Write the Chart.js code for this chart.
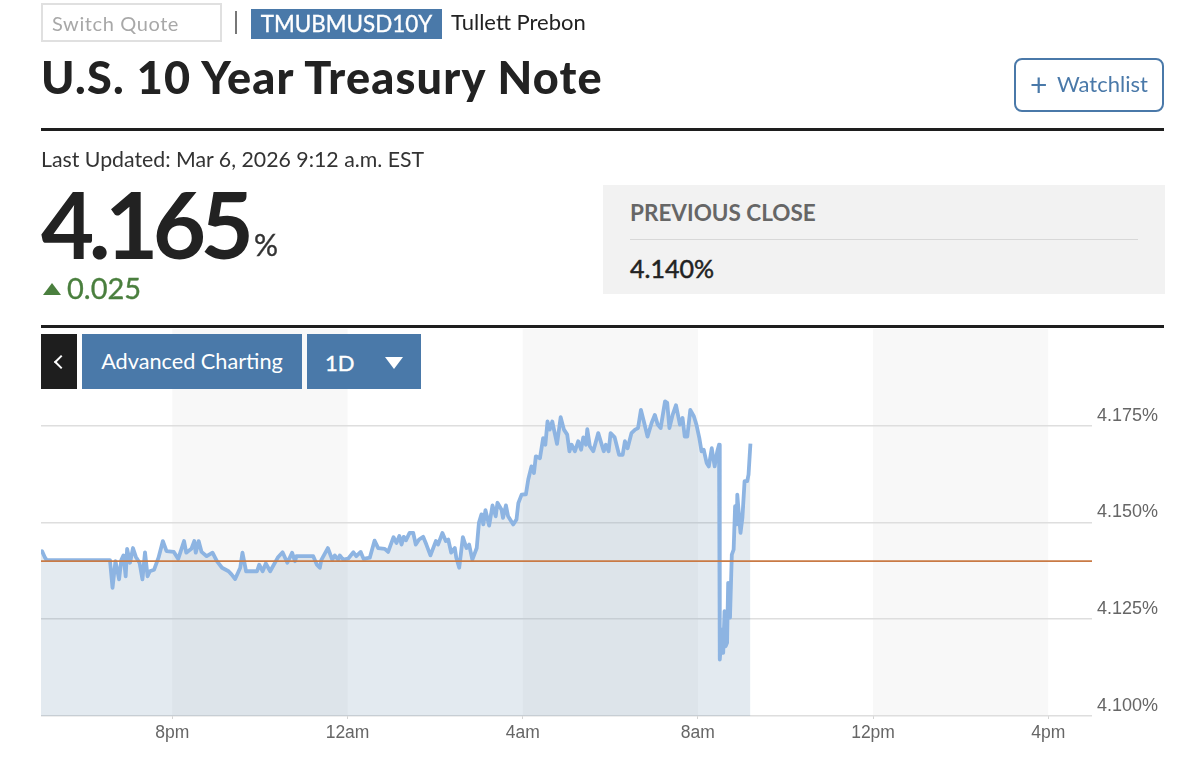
<!DOCTYPE html>
<html>
<head>
<meta charset="utf-8">
<title>U.S. 10 Year Treasury Note</title>
<script src="https://cdn.jsdelivr.net/npm/chart.js@4"></script>
<style>
html, body { margin: 0; padding: 0; background: #fff; }
body { width: 1200px; height: 773px; position: relative; overflow: hidden; font-family: Lato, sans-serif; color: #222; }
#chart-area { position: absolute; left: 0; top: 0; width: 1200px; height: 773px; }
.abs { position: absolute; white-space: nowrap; line-height: 1; }
.blue { background: #4a79a9; color: #fff; }
.rule { position: absolute; left: 41px; width: 1123px; height: 3px; background: #1e1e1e; }
.medium { -webkit-text-stroke: 0.35px currentColor; }
</style>
</head>
<body>
<canvas id="chart-area" width="1200" height="773"></canvas>

<div class="abs" style="left:41px;top:3px;width:177px;height:35px;border:2px solid #e0e0e0"></div>
<div class="abs" style="left:52px;top:13px;font-size:20px;color:#a8a8a8;letter-spacing:.6px">Switch Quote</div>
<div class="abs" style="left:235px;top:11px;width:1.5px;height:23px;background:#777"></div>
<div class="abs blue medium" style="left:251px;top:9px;width:191px;height:30px;line-height:30px;text-align:center;font-size:22.4px">TMUBMUSD10Y</div>
<div class="abs" style="left:451px;top:11px;font-size:22px">Tullett Prebon</div>
<div class="abs" style="left:41px;top:55px;font-size:45px;font-weight:900;letter-spacing:1.2px;color:#222">U.S. 10 Year Treasury Note</div>
<div class="abs" style="left:1014px;top:58px;width:146px;height:50px;border:2px solid #4a79a9;border-radius:8px"></div>
<div class="abs" style="left:1030px;top:69px;font-size:30px;color:#4a79a9">+</div>
<div class="abs" style="left:1057px;top:73px;font-size:22px;color:#4a79a9">Watchlist</div>
<div class="rule" style="top:128px"></div>
<div class="abs" style="left:41px;top:149px;font-size:21.3px;color:#333">Last Updated: Mar 6, 2026 9:12 a.m. EST</div>
<div class="abs" style="left:41px;top:178px;font-size:92px;font-weight:700;letter-spacing:-5.6px;color:#222">4.165</div>
<div class="abs medium" style="left:254px;top:229px;font-size:30px;color:#333">%</div>
<div class="abs" style="left:43px;top:283px;width:0;height:0;border-left:9px solid transparent;border-right:9px solid transparent;border-bottom:12px solid #4a7f3e"></div>
<div class="abs medium" style="left:67px;top:273px;font-size:29px;color:#4a7f3e">0.025</div>
<div class="abs" style="left:603px;top:185px;width:562px;height:109px;background:#f2f2f2"></div>
<div class="abs" style="left:630px;top:202px;font-size:22.5px;font-weight:700;color:#666">PREVIOUS CLOSE</div>
<div class="abs" style="left:630px;top:239px;width:508px;height:1px;background:#d8d8d8"></div>
<div class="abs medium" style="left:630px;top:256px;font-size:25px;color:#222;-webkit-text-stroke-width:0.5px">4.140%</div>
<div class="rule" style="top:325px"></div>
<div class="abs" style="left:41px;top:334px;width:36px;height:55px;background:#1e1e1e"></div>
<div class="abs" style="left:56px;top:357px;width:8px;height:8px;border-left:2px solid #fff;border-bottom:2px solid #fff;transform:rotate(45deg)"></div>
<div class="abs blue" style="left:82px;top:334px;width:220px;height:55px;line-height:54px;text-align:center;font-size:21.7px">Advanced Charting</div>
<div class="abs blue medium" style="left:307px;top:334px;width:114px;height:55px;line-height:57px;font-size:22px;text-indent:18px">1D</div>
<div class="abs" style="left:385px;top:357px;width:0;height:0;border-left:9px solid transparent;border-right:9px solid transparent;border-top:12px solid #fff"></div>

<script>
// minutes after 5pm the previous evening, yield in percent
var timeMinutes = [
    0, 1.4, 5.5, 7.8, 94.5, 98, 102, 107, 110, 113, 116, 118, 122, 126, 130, 135, 139, 142.5, 146, 149,
    155, 161, 167, 172, 182, 188, 196, 199, 206, 210, 212, 216, 220, 227, 235, 241, 248, 257, 261, 266,
    273, 276, 281, 296, 299, 303.7, 308, 314, 325, 331, 337.5, 344, 348, 350, 373, 378, 382, 384, 393, 399,
    402.5, 407, 409.4, 414, 421, 428, 432, 438, 442, 450.5, 457, 462, 471, 475.6, 483, 487, 491, 494, 497, 500,
    505, 510, 513.5, 518, 523.6, 528, 533.6, 541, 544, 550, 554.6, 558, 562, 567, 569, 573, 578, 583, 586.6, 591,
    597, 600, 603.5, 606, 609, 614, 618.6, 623, 625.4, 631, 633, 637, 640, 647, 651.5, 654, 658.5, 664.4, 667.6, 672,
    675.4, 678, 683.6, 688, 691, 694, 697, 700.5, 707, 712, 716.5, 721, 724, 727, 731.6, 736, 740, 743, 746.6, 748.5,
    752, 756.7, 763.5, 771, 774, 777.7, 780.4, 786, 792, 797, 800, 803.7, 809, 814, 818, 822, 826.5, 831, 836.6, 841,
    845, 849, 855, 858, 861, 865.4, 870, 875.4, 879, 882, 885.5, 889.6, 894.6, 898, 902, 905, 908, 912, 915, 919,
    923, 926.6, 929, 930, 933, 934.7, 936.5, 938, 940, 941.5, 944, 946.5, 949, 951, 953.4, 954, 956.6, 958.4, 961, 964,
    967.6, 969.4, 972
];
var yieldValues = [
    4.1424, 4.1426, 4.1409, 4.1403, 4.1403, 4.1331, 4.14, 4.1353, 4.1403, 4.1415, 4.1361, 4.1432, 4.1396, 4.1434, 4.1411, 4.1396, 4.1353, 4.1423, 4.1361, 4.1374,
    4.1378, 4.1409, 4.1452, 4.1426, 4.1424, 4.1406, 4.1452, 4.1422, 4.1432, 4.1452, 4.1422, 4.1452, 4.1424, 4.1413, 4.1422, 4.14, 4.1383, 4.1374, 4.1366, 4.1354,
    4.1383, 4.1422, 4.1374, 4.1374, 4.1391, 4.1374, 4.1394, 4.1374, 4.1411, 4.1423, 4.1396, 4.1422, 4.14, 4.1413, 4.1413, 4.1391, 4.1383, 4.1403, 4.1434, 4.1404,
    4.1415, 4.1404, 4.1415, 4.1404, 4.1407, 4.1423, 4.1413, 4.1424, 4.1406, 4.1409, 4.1453, 4.1434, 4.1432, 4.1424, 4.1462, 4.1447, 4.1465, 4.1443, 4.1463, 4.1454,
    4.1473, 4.1473, 4.1443, 4.1456, 4.1463, 4.1443, 4.1415, 4.1452, 4.1443, 4.1473, 4.1452, 4.1456, 4.1422, 4.1434, 4.1409, 4.1383, 4.1462, 4.1434, 4.1443, 4.1404,
    4.1434, 4.1499, 4.1521, 4.1495, 4.1532, 4.1492, 4.1544, 4.1516, 4.1551, 4.1533, 4.1512, 4.1544, 4.1516, 4.1495, 4.1508, 4.155, 4.1572, 4.1573, 4.1611, 4.1645,
    4.1628, 4.1671, 4.1666, 4.1718, 4.1701, 4.1761, 4.174, 4.1761, 4.1703, 4.1772, 4.174, 4.1727, 4.1684, 4.1701, 4.1684, 4.171, 4.1688, 4.172, 4.1701, 4.1741,
    4.1697, 4.1684, 4.1731, 4.1684, 4.1701, 4.1684, 4.1731, 4.172, 4.1675, 4.1675, 4.171, 4.1692, 4.1731, 4.174, 4.1744, 4.1791, 4.1757, 4.1722, 4.1757, 4.1778,
    4.1753, 4.1744, 4.1813, 4.1809, 4.1744, 4.1778, 4.1803, 4.1753, 4.177, 4.1722, 4.1722, 4.1791, 4.1774, 4.1753, 4.1718, 4.1684, 4.1688, 4.1654, 4.1645, 4.1692,
    4.1645, 4.1684, 4.1701, 4.1146, 4.1223, 4.1163, 4.1271, 4.118, 4.1189, 4.1344, 4.1254, 4.1417, 4.143, 4.1542, 4.1495, 4.1572, 4.1512, 4.1473, 4.1512, 4.1607,
    4.1607, 4.1624, 4.1704
];
var previousClose = 4.14;
var sessionEnds = [0, 1440];
var yTicks = [4.1, 4.125, 4.15, 4.175];
var yTickLabels = ["4.100%", "4.125%", "4.150%", "4.175%"];
var xTicks = [180, 420, 660, 900, 1140, 1380];
var xTickLabels = ["8pm", "12am", "4am", "8am", "12pm", "4pm"];
var shadedFrom = [180, 660, 1140];
var shadedTo = [420, 900, 1380];

var points = timeMinutes.map(function (t, i) {
    return { x: t, y: yieldValues[i] };
});

var bandPlugin = {
    id: "bands",
    beforeDraw: function (chart) {
        var ctx = chart.ctx, area = chart.chartArea, x = chart.scales.x;
        ctx.save();
        ctx.fillStyle = "#f8f8f8";
        for (var i = 0; i < shadedFrom.length; i++) {
            var l = x.getPixelForValue(shadedFrom[i]);
            ctx.fillRect(l, area.top, x.getPixelForValue(shadedTo[i]) - l, area.bottom - area.top);
        }
        ctx.restore();
    }
};

function setTicks(values) {
    return function (scale) {
        scale.ticks = values.map(function (v) { return { value: v }; });
    };
}

var config = {
    type: "line",
    data: {
        datasets: [{
            data: sessionEnds.map(function (t) { return { x: t, y: previousClose }; }),
            borderColor: "#c97a45",
            borderWidth: 1.8,
            pointRadius: 0,
            fill: false
        }, {
            data: points,
            borderColor: "#8db4e2",
            borderWidth: 3.8,
            borderJoinStyle: "round",
            pointRadius: 0,
            tension: 0,
            fill: "start",
            backgroundColor: "rgba(70,115,155,0.15)"
        }]
    },
    options: {
        responsive: false,
        animation: false,
        layout: { autoPadding: false, padding: { left: 41, top: 329, right: 0, bottom: 0 } },
        plugins: { legend: { display: false }, tooltip: { enabled: false } },
        scales: {
            x: {
                type: "linear",
                min: 0,
                max: 1440,
                afterBuildTicks: setTicks(xTicks),
                afterFit: function (s) { s.height = 57; },
                grid: { drawOnChartArea: false, drawTicks: true, tickLength: 3, tickColor: "#d4d4d4" },
                border: { display: false },
                ticks: {
                    maxRotation: 0,
                    autoSkip: false,
                    padding: 4,
                    color: "#666",
                    font: { family: "Liberation Sans", size: 17.5 },
                    callback: function (v) { return xTickLabels[xTicks.indexOf(v)]; }
                }
            },
            y: {
                position: "right",
                min: 4.1,
                max: 4.2,
                afterBuildTicks: setTicks(yTicks),
                afterFit: function (s) { s.width = 108; },
                grid: { color: "#dedede", lineWidth: 1.5, drawTicks: false },
                border: { display: false },
                ticks: {
                    autoSkip: false,
                    padding: 5,
                    labelOffset: -10,
                    color: "#666",
                    font: { family: "Liberation Sans", size: 18 },
                    callback: function (v) { return yTickLabels[yTicks.indexOf(v)]; }
                }
            }
        }
    },
    plugins: [bandPlugin]
};

var ctx = document.getElementById("chart-area").getContext("2d");
window.myLine = new Chart(ctx, config);
</script>
</body>
</html>
